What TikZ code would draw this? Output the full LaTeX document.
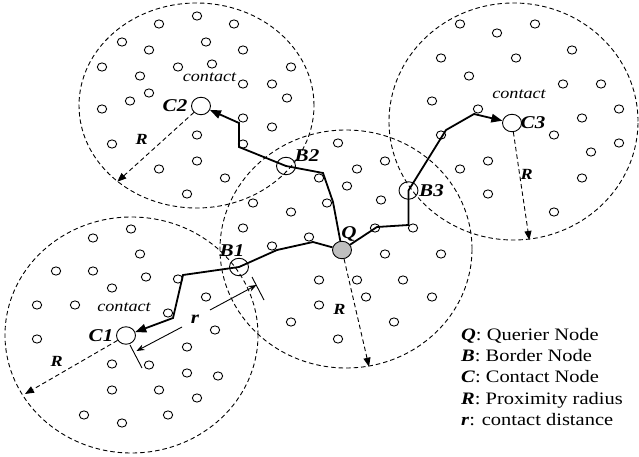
\documentclass[tikz,border=0pt]{standalone}
\usepackage{fontspec}
\setmainfont{Liberation Serif}[FakeStretch=1.17]
\usetikzlibrary{arrows.meta,shapes.geometric}
\begin{document}
\begin{tikzpicture}[x=1pt,y=-1pt,
  zone/.style={draw,line width=0.9pt,dash pattern=on 4.5pt off 3pt},
  dot/.style={ellipse,draw,line width=0.9pt,minimum width=9.4pt,minimum height=8.2pt,inner sep=0pt},
  hub/.style={ellipse,draw,line width=0.9pt,minimum width=19pt,minimum height=17.5pt,inner sep=0pt},
  route/.style={line width=1.8pt,line join=miter},
  tipbig/.style={-{Triangle[length=11pt,width=8.5pt]}},
  radiusline/.style={line width=0.9pt,dash pattern=on 4.5pt off 3pt,-{Triangle[length=9pt,width=7pt]}},
  dimline/.style={line width=0.9pt,-{Stealth[length=8pt,width=6pt]}},
  tick/.style={line width=0.9pt},
  tag/.style={font=\fontsize{18}{21}\selectfont\bfseries\itshape,inner sep=0pt,anchor=base},
  rtag/.style={font=\fontsize{15.5}{18}\selectfont\bfseries\itshape,inner sep=0pt,anchor=base},
  note/.style={font=\fontsize{15.5}{18}\selectfont\itshape,inner sep=0pt,anchor=base},
  legend/.style={font=\fontsize{17.5}{21}\selectfont,inner sep=0pt,anchor=base west}]
\useasboundingbox (0,0) rectangle (639,457);

% proximity zones
\draw[zone] (196.5,105.5) ellipse [x radius=117.5pt, y radius=102.5pt];
\draw[zone] (513.5,121.5) ellipse [x radius=124.5pt, y radius=118.5pt];
\draw[zone] (346,249) ellipse [x radius=126pt, y radius=119pt];
\draw[zone] (131.5,335) ellipse [x radius=126.5pt, y radius=118pt];

% ordinary nodes
\foreach \p [count=\k] in {
  (197,16),(159,24),(234,24),(122,42),(206,42),(149,50),(243,50),(102,67),(178,67),
  (212,64),(291,67),(140,76),(243,84),(272,84),(149,93),(130,101),(287,98),(102,109),
  (243,118),(272,127),(197,135),(112,144),(243,144),(197,161),(159,169),(225,178),(187,194),
  (338,143),(385,161),(357,169),(319,178),(347,186),(381,200),(253,203),(327,203),(291,212),
  (243,228),(375,228),(413,228),(309,237),(272,246),(385,254),(441,254),(319,280),(357,280),
  (403,280),(366,297),(432,297),(319,305),(291,322),(394,322),(338,339),
  (460,24),(535,24),(497,33),(572,50),(441,58),(516,58),(469,76),(563,84),(601,84),
  (432,101),(478,109),(619,109),(582,118),(441,135),(554,135),(619,143),(591,152),(488,161),
  (460,169),(582,178),(488,194),(554,212),
  (131,229),(93,238),(140,254),(56,271),(93,271),(146,277),(178,279),(112,288),(206,297),
  (37,305),(75,305),(168,313),(215,330),(37,339),(187,347),(112,364),(149,365),(187,373),
  (218,376),(112,390),(159,390),(197,398),(84,415),(168,415),(122,423)}
  \node[dot] (d\k) at \p {};

% querier, border and contact nodes
\node[hub,fill=black!25] (Q) at (342,250) {};
\node[hub] (B1) at (239,267) {};
\node[hub] (B2) at (286,166) {};
\node[hub] (B3) at (408.5,190.5) {};
\node[hub] (C1) at (126,335.5) {};
\node[hub] (C2) at (201,106) {};
\node[hub] (C3) at (512,123) {};

% route bends
\coordinate (a1) at (333,202);
\coordinate (a2) at (323,173);
\coordinate (a3) at (239,147);
\coordinate (a4) at (239,123);
\coordinate (b1) at (313,242);
\coordinate (b2) at (277,250);
\coordinate (b3) at (183,275);
\coordinate (b4) at (173,318);
\coordinate (c1) at (377,227);
\coordinate (c2) at (408.5,225);
\coordinate (c3) at (446,130);
\coordinate (c4) at (474,114);

% query routes
\draw[route,tipbig] (Q) -- (a1) -- (a2) -- (B2.center) -- (a3) -- (a4) -- (C2);
\draw[route,tipbig] (Q) -- (b1) -- (b2) -- (B1.center) -- (b3) -- (b4) -- (C1);
\draw[route,tipbig] (Q) -- (c1) -- (c2) -- (B3.center) -- (c3) -- (c4) -- (C3);

% proximity radius arrows
\coordinate (e2) at (117.3,181.7);
\coordinate (e3) at (529.3,240);
\coordinate (eq) at (369,366.7);
\coordinate (e1) at (25,394);
\draw[radiusline] (C2) -- (e2);
\draw[radiusline] (C3) -- (e3);
\draw[radiusline] (Q) -- (eq);
\draw[radiusline] (C1) -- (e1);

% contact distance dimension
\coordinate (tA1) at (130,345);
\coordinate (tA2) at (142,368);
\coordinate (tB1) at (252,277);
\coordinate (tB2) at (264,300);
\coordinate (rA) at (136.5,351);
\coordinate (rB) at (256.5,285);
\coordinate (rL) at (182,327);
\coordinate (rR) at (210,310);
\draw[tick] (tA1) -- (tA2);
\draw[tick] (tB1) -- (tB2);
\draw[dimline] (rL) -- (rA);
\draw[dimline] (rR) -- (rB);

% labels
\node[tag] (lQ) at (349,238.5) {Q};
\node[tag] (lB1) at (232,256) {B1};
\node[tag] (lB2) at (307,161.5) {B2};
\node[tag] (lB3) at (431.5,196.5) {B3};
\node[tag] (lC1) at (101,341.5) {C1};
\node[tag] (lC2) at (175,111.5) {C2};
\node[tag] (lC3) at (533,128.5) {C3};
\node[note] (k2) at (209.5,81.5) {contact};
\node[note] (k3) at (519,99) {contact};
\node[note] (k1) at (124,311.5) {contact};
\node[rtag] (R2) at (141.7,145) {R};
\node[rtag] (R3) at (526.7,179.3) {R};
\node[rtag] (Rq) at (339.3,314.3) {R};
\node[rtag] (R1) at (56.7,366.7) {R};
\node[tag] (lr) at (195,323) {r};

% legend
\node[legend] (g1) at (461,340) {\textbf{\textit{Q}}: Querier Node};
\node[legend] (g2) at (461,361.4) {\textbf{\textit{B}}: Border Node};
\node[legend] (g3) at (461,382.8) {\textbf{\textit{C}}: Contact Node};
\node[legend] (g4) at (461,404.2) {\textbf{\textit{R}}: Proximity radius};
\node[legend] (g5) at (461,425.6) {\textbf{\textit{r}}: contact distance};
\end{tikzpicture}
\end{document}
